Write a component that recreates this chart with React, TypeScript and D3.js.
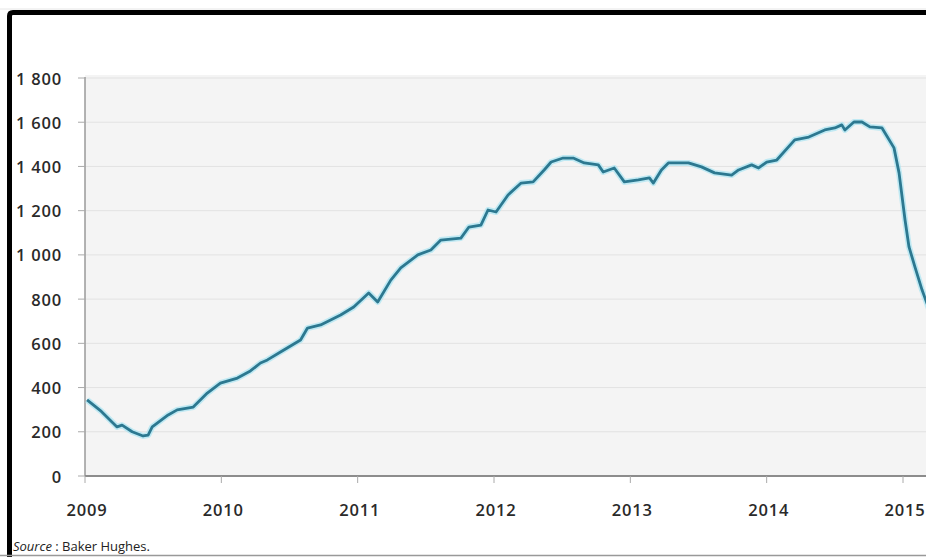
import React from "react";
import * as d3 from "d3";

// Baker Hughes US oil rig count (decimal year, rigs)
const years: number[] = [
  2009.015, 2009.12, 2009.235, 2009.272, 2009.346, 2009.426, 2009.463, 2009.493,
  2009.61, 2009.676, 2009.794, 2009.897, 2009.993, 2010.118, 2010.213, 2010.287,
  2010.338, 2010.434, 2010.581, 2010.632, 2010.728, 2010.875, 2010.971, 2011.081,
  2011.147, 2011.243, 2011.316, 2011.441, 2011.537, 2011.61, 2011.757, 2011.816,
  2011.904, 2011.956, 2012.015, 2012.103, 2012.199, 2012.287, 2012.368, 2012.419,
  2012.507, 2012.581, 2012.662, 2012.765, 2012.801, 2012.882, 2012.956, 2013.059,
  2013.14, 2013.169, 2013.228, 2013.279, 2013.426, 2013.522, 2013.618, 2013.743,
  2013.794, 2013.89, 2013.941, 2014.0, 2014.074, 2014.206, 2014.309, 2014.426,
  2014.5, 2014.551, 2014.574, 2014.64, 2014.699, 2014.757, 2014.846, 2014.934,
  2014.971, 2015.015, 2015.044, 2015.088, 2015.14, 2015.2,
];
const rigs: number[] = [
  344, 292, 222, 230, 200, 181, 185, 222,
  276, 299, 312, 375, 420, 443, 475, 511,
  525, 561, 615, 669, 683, 728, 764, 828,
  787, 886, 941, 1000, 1022, 1067, 1076, 1126,
  1135, 1203, 1194, 1271, 1325, 1330, 1384, 1420,
  1438, 1438, 1416, 1407, 1375, 1393, 1330, 1339,
  1348, 1325, 1384, 1416, 1416, 1398, 1371, 1361,
  1384, 1407, 1393, 1420, 1429, 1520, 1533, 1565,
  1574, 1588, 1565, 1601, 1601, 1579, 1574, 1484,
  1371, 1158, 1036, 945, 841, 740,
];
const yTicks: number[] = [0, 200, 400, 600, 800, 1000, 1200, 1400, 1600, 1800];
const xTicks: number[] = [2009, 2010, 2011, 2012, 2013, 2014, 2015];

const W = 926;
const H = 557;
const plotLeft = 85;
const plotRight = 926;
const plotTop = 75;
const plotBottom = 476;

export default function App() {
  const x = d3.scaleLinear().domain([2009, 2015]).range([85, 903]);
  const y = d3.scaleLinear().domain([0, 1800]).range([476, 78]);
  const pts: [number, number][] = years.map((yr, i) => [yr, rigs[i]]);
  const line = d3
    .line<[number, number]>()
    .x((d) => x(d[0]))
    .y((d) => y(d[1]))
    .curve(d3.curveLinear);
  const path = line(pts) || "";
  const fmt = (v: number) => (v >= 1000 ? `${Math.floor(v / 1000)} ${String(v % 1000).padStart(3, "0")}` : String(v));
  const font = "'Open Sans', 'DejaVu Sans', sans-serif";

  return (
    <svg
      width={W}
      height={H}
      viewBox={`0 0 ${W} ${H}`}
      style={{ position: "absolute", left: 0, top: 0, background: "#fff" }}
    >
      <defs>
        <clipPath id="plotclip">
          <rect x={plotLeft} y={plotTop - 10} width={plotRight - plotLeft} height={plotBottom - plotTop + 10} />
        </clipPath>
      </defs>
      {/* plot background */}
      <rect x={plotLeft} y={plotTop} width={plotRight - plotLeft} height={plotBottom - plotTop} fill="#f4f4f4" />
      {/* grid */}
      {yTicks.map((t) => (
        <line key={"g" + t} x1={plotLeft} x2={plotRight} y1={y(t)} y2={y(t)} stroke="#e2e2e2" strokeWidth={1} />
      ))}
      {/* y axis */}
      <line x1={plotLeft} x2={plotLeft} y1={plotTop + 2} y2={plotBottom} stroke="#9a9a9a" strokeWidth={1.5} />
      {yTicks.map((t) => (
        <g key={"y" + t}>
          <line x1={78} x2={plotLeft} y1={y(t)} y2={y(t)} stroke="#aaa" strokeWidth={1} />
          <text
            x={62}
            y={y(t)}
            textAnchor="end"
            dominantBaseline="central"
            fontFamily={font}
            fontSize={16.5}
            fontWeight={600}
            letterSpacing={0.8}
            fill="#2a2a2a"
          >
            {fmt(t)}
          </text>
        </g>
      ))}
      {/* x axis */}
      <line x1={plotLeft} x2={plotRight} y1={plotBottom} y2={plotBottom} stroke="#8c8c8c" strokeWidth={2} />
      {xTicks.map((t) => (
        <g key={"x" + t}>
          <line x1={x(t)} x2={x(t)} y1={plotBottom} y2={plotBottom + 7} stroke="#aaa" strokeWidth={1} />
          <text
            x={x(t) + 2}
            y={509}
            textAnchor="middle"
            dominantBaseline="central"
            fontFamily={font}
            fontSize={16.5}
            fontWeight={600}
            letterSpacing={0.8}
            fill="#2a2a2a"
          >
            {t}
          </text>
        </g>
      ))}
      {/* series */}
      <g clipPath="url(#plotclip)">
        <path d={path} fill="none" stroke="#a8e4f2" strokeWidth={6} strokeLinejoin="round" opacity={0.7} />
        <path d={path} fill="none" stroke="#2c7890" strokeWidth={2.8} strokeLinejoin="round" />
      </g>
      {/* source */}
      <text x={13} y={546} fontFamily={font} fontSize={13} fill="#222" dominantBaseline="central">
        <tspan fontStyle="italic">Source</tspan>
        <tspan> : Baker Hughes.</tspan>
      </text>
      {/* frame */}
      <line x1={0} x2={W} y1={9} y2={9} stroke="#e6e6e6" strokeWidth={1} />
      <path d={`M 9.5 ${H} L 9.5 16 Q 9.5 12.5 13 12.5 L ${W} 12.5`} fill="none" stroke="#000" strokeWidth={5} />
      <line x1={0} x2={W} y1={555.5} y2={555.5} stroke="#999" strokeWidth={1.5} />
    </svg>
  );
}
